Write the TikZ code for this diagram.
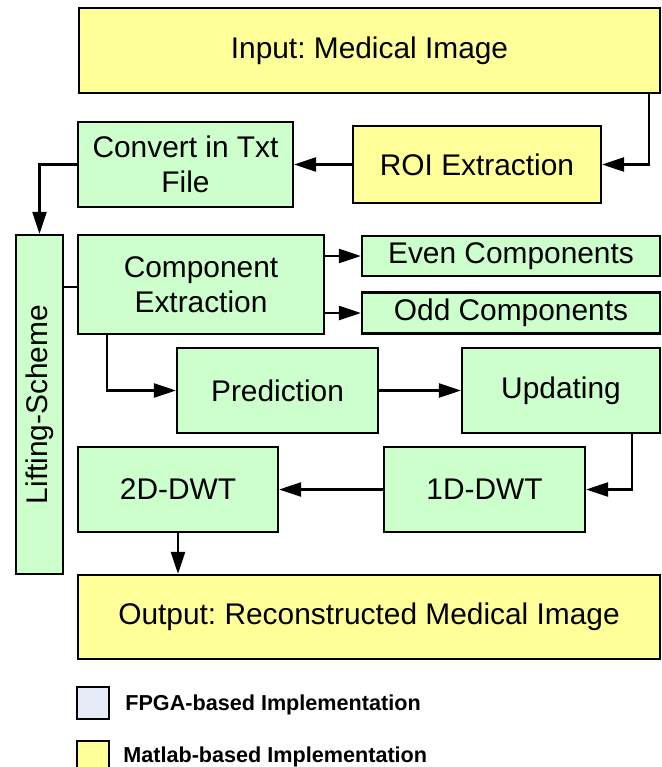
\documentclass[tikz,border=0pt]{standalone}
\usepackage{fontspec}
\setmainfont{Liberation Sans}
\usetikzlibrary{positioning}
\usetikzlibrary{arrows.meta}

\definecolor{boxgreen}{HTML}{CCFFCC}
\definecolor{boxyellow}{HTML}{FFFF99}
\definecolor{boxblue}{HTML}{E6ECF7}

\tikzset{
  box/.style={draw=black, line width=1.3pt, inner sep=2pt, align=center,
    font=\fontsize{17pt}{20pt}\selectfont},
  gbox/.style={box, fill=boxgreen},
  ybox/.style={box, fill=boxyellow},
  arr/.style={line width=1.3pt, -{Triangle[length=12.5pt,width=8pt]}},
  legbox/.style={draw=black, line width=1.3pt, minimum width=0.64cm, minimum height=0.64cm, inner sep=0pt},
  legtext/.style={anchor=west, inner sep=0pt, font=\fontsize{12.3pt}{14pt}\selectfont\bfseries}
}

\begin{document}
\frenchspacing
\begin{tikzpicture}[x=0.02cm, y=-0.02cm]
 \useasboundingbox (0,0) rectangle (662,767);
 % boxes
 \node[ybox, minimum width=11.62cm, minimum height=1.70cm] (inp) at (369.5,50.5) {Input: Medical Image};
 \node[ybox, minimum width=4.96cm, minimum height=1.54cm] (roi) at (477,164.5) {ROI Extraction};
 \node[gbox, minimum width=4.30cm, minimum height=1.70cm] (conv) at (185.5,164.5) {Convert in Txt\\File};
 \node[gbox, minimum width=0.94cm, minimum height=6.78cm] (lift) at (39.5,404.5) {\rotatebox{90}{Lifting-Scheme}};
 \node[gbox, minimum width=4.92cm, minimum height=1.98cm] (comp) at (201,284.5) {Component\\Extraction};
 \node[gbox, minimum width=5.96cm, minimum height=0.80cm] (even) at (511,256) {Even Components};
 \node[gbox, minimum width=5.96cm, minimum height=0.82cm] (odd) at (511,313) {Odd Components};
 \node[gbox, minimum width=4.02cm, minimum height=1.70cm] (pred) at (277.5,390.5) {Prediction};
 \node[gbox, minimum width=3.96cm, minimum height=1.70cm] (upd) at (561,390.5) {Updating};
 \node[gbox, minimum width=4.02cm, minimum height=1.70cm] (dwt1) at (484.5,489.5) {1D-DWT};
 \node[gbox, minimum width=4.00cm, minimum height=1.70cm] (dwt2) at (178,489.5) {2D-DWT};
 \node[ybox, minimum width=11.64cm, minimum height=1.68cm] (out) at (369,617) {Output: Reconstructed Medical Image};
 % connectors
 \draw[arr] ([xshift=-0.24cm]inp.south east) |- (roi.east);
 \draw[arr] (roi.west) -- (conv.east);
 \draw[arr] (conv.west) -| (lift.north);
 \draw[line width=1.3pt] (lift.east |- 0,287) -- (comp.west |- 0,287);
 \draw[arr] (comp.east |- even.west) -- (even.west);
 \draw[arr] (comp.east |- odd.west) -- (odd.west);
 \draw[arr] ([xshift=0.6cm]comp.south west) |- (pred.west);
 \draw[arr] (pred.east) -- (upd.west);
 \draw[arr] ([xshift=-0.58cm]upd.south east) |- (dwt1.east);
 \draw[arr] (dwt1.west) -- (dwt2.east);
 \draw[arr] (dwt2.south) -- (dwt2.south |- out.north);
 % legend
 \node[legbox, fill=boxblue] (lfpga) at (93,703) {};
 \node[legbox, fill=boxyellow] (lmat) at (93,757) {};
 \node[legtext] (tfpga) at (125,705) {FPGA-based Implementation};
 \node[legtext] (tmat) at (123,757) {Matlab-based Implementation};
\end{tikzpicture}
\end{document}
